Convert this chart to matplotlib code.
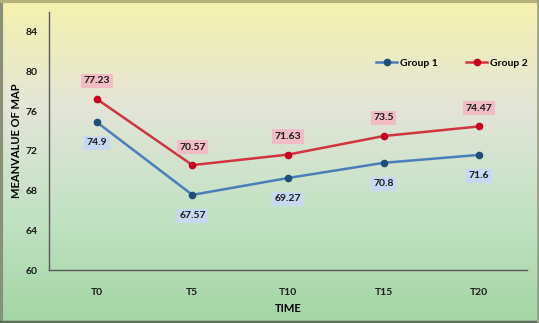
import matplotlib
matplotlib.use('Agg')
import matplotlib.pyplot as plt
import numpy as np
from matplotlib.colors import LinearSegmentedColormap

plt.rcParams['font.family'] = ['Lato', 'DejaVu Sans']
plt.rcParams['font.weight'] = 'bold'

# chart data
times = ['T0', 'T5', 'T10', 'T15', 'T20']
group1 = [74.9, 67.57, 69.27, 70.8, 71.6]
group2 = [77.23, 70.57, 71.63, 73.5, 74.47]
y_ticks = [60, 64, 68, 72, 76, 80, 84]

fig = plt.figure(figsize=(5.39, 3.23), dpi=100)

# background gradient (yellow top -> grey middle -> green bottom)
bg = fig.add_axes([0, 0, 1, 1], zorder=-1)
cmap = LinearSegmentedColormap.from_list('bg', ['#f5f2ae', '#e3e5d8', '#c2e2c4', '#a3d5a3'])
grad = np.linspace(0, 1, 256).reshape(-1, 1)
bg.imshow(grad, aspect='auto', cmap=cmap, extent=[0, 1, 0, 1], origin='upper')
bg.set_xlim(0, 1)
bg.set_ylim(0, 1)
bg.axis('off')
# outer frame
bg.plot([0.002, 0.002], [0, 1], color='#8a8f7a', lw=3)
bg.plot([0, 1], [0.996, 0.996], color='#b3b07a', lw=3)
bg.plot([0, 1], [0.004, 0.004], color='#5f6b5f', lw=2.5)
bg.plot([0.998, 0.998], [0, 1], color='#9aa08a', lw=2)

ax = fig.add_axes([49 / 539, 1 - 270 / 323, 478 / 539, 258 / 323])
ax.patch.set_alpha(0)
x = np.arange(len(times))
ax.plot(x, group1, color='#4a7ebb', lw=1.8, marker='o', ms=4.5, mfc='#1f4e79', mec='#1f4e79', label='Group 1')
ax.plot(x, group2, color='#d2343f', lw=1.8, marker='o', ms=4.5, mfc='#c8001e', mec='#c8001e', label='Group 2')

for i in range(len(times)):
    ax.annotate(f'{group1[i]:g}', (x[i], group1[i]), xytext=(0, -15), textcoords='offset points',
                ha='center', va='center', fontsize=7.5, fontweight='bold', color='#1a1a1a',
                bbox=dict(boxstyle='square,pad=0.25', fc='#c6d9f0', ec='none'))
    ax.annotate(f'{group2[i]:g}', (x[i], group2[i]), xytext=(0, 13), textcoords='offset points',
                ha='center', va='center', fontsize=7.5, fontweight='bold', color='#1a1a1a',
                bbox=dict(boxstyle='square,pad=0.25', fc='#f2bcc4', ec='none'))

ax.set_xlim(-0.5, 4.5)
ax.set_ylim(60, 86)
ax.set_xticks(x)
ax.set_xticklabels(times)
ax.set_yticks(y_ticks)
ax.tick_params(length=0, labelsize=7.5, colors='#1a1a1a', pad=8)
ax.tick_params(axis='x', pad=13)
for lab in ax.get_xticklabels() + ax.get_yticklabels():
    lab.set_fontweight('bold')
for s in ['top', 'right']:
    ax.spines[s].set_visible(False)
for s in ['left', 'bottom']:
    ax.spines[s].set_color('#5a5a5a')
    ax.spines[s].set_linewidth(1)

ax.set_xlabel('TIME', fontsize=8, fontweight='bold', labelpad=4)
ax.set_ylabel('MEANVALUE OF MAP', fontsize=8, fontweight='bold', labelpad=3)

ax.legend(loc='upper left', bbox_to_anchor=(0.665, 0.855), ncol=2, frameon=False,
          handlelength=2.0, columnspacing=2.7, handletextpad=0.3,
          prop={'weight': 'bold', 'size': 7.5})

fig.savefig('out.png', dpi=100)
